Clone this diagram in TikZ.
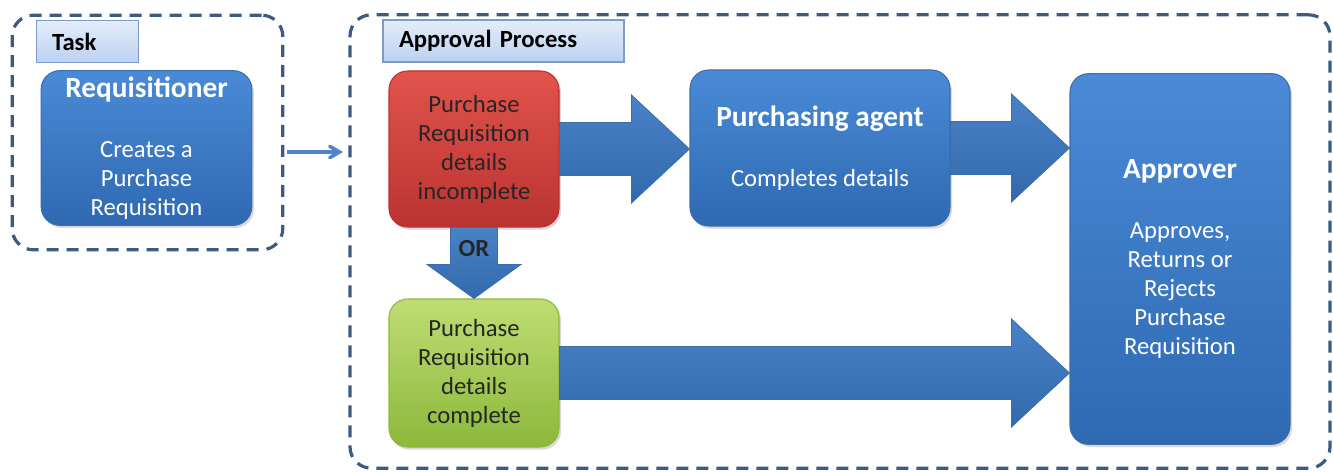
\documentclass[tikz,border=0pt]{standalone}
\usepackage{xcolor}
\usepackage{fontspec}
\setmainfont{Carlito}
\usepackage{tikz}
\usetikzlibrary{arrows,positioning,calc,shadows}
\definecolor{dashblue}{HTML}{3B5B82}
\definecolor{boxtop}{HTML}{4A8AD6}
\definecolor{boxbot}{HTML}{2F69B2}
\definecolor{boxline}{HTML}{3A6DAE}
\definecolor{redtop}{HTML}{E2534C}
\definecolor{redbot}{HTML}{BA3330}
\definecolor{greentop}{HTML}{BFDD74}
\definecolor{greenbot}{HTML}{8CB83B}
\definecolor{tagtop}{HTML}{E4EDF9}
\definecolor{tagbot}{HTML}{BBD1F0}
\definecolor{tagline}{HTML}{7E9CC6}
\definecolor{arrowblue}{HTML}{3A77C3}
\newcommand*{\boxtxt}{\fontsize{18.5}{21.75}\selectfont}
\newcommand*{\boxttl}{\bfseries\fontsize{22}{25}\selectfont}
% 横向粗箭头: 起点, 终点节点, 箭尖名
\newcommand*{\harrow}[3]{%
  \coordinate (#3) at (#1 -| #2);
  \path[bigarrow] ($(#1)+(0,-26.5)$) -- ($(#3)+(-58,-26.5)$) -- ($(#3)+(-58,-54)$) -- (#3)
    -- ($(#3)+(-58,54)$) -- ($(#3)+(-58,26.5)$) -- ($(#1)+(0,26.5)$) -- cycle;}

\begin{document}
\begin{tikzpicture}[ %可选参数
        x=0.75pt, y=-0.75pt, % 按像素取坐标, y 向下
        >=angle 60, % 开口箭头
        font=\boxtxt % 默认字号
      ]
      \tikzstyle{group}=[draw=dashblue, line width=2.4pt, dash pattern=on 9pt off 6pt, rounded corners=16pt] % 虚线分组框
      \tikzstyle{tag}=[draw=tagline, line width=0.8pt, top color=tagtop, bottom color=tagbot, font=\bfseries\fontsize{18.5}{20}\selectfont, align=left, inner xsep=12pt, inner ysep=1pt] % 标题条
      \tikzstyle{box}=[rounded corners=14pt, draw=boxline, line width=0.8pt, top color=boxtop, bottom color=boxbot, text=white, align=center, inner sep=1pt,
        drop shadow={opacity=0.3, shadow xshift=1.5pt, shadow yshift=-2pt}] % 蓝色圆角框
      \tikzstyle{redbox}=[box, draw=redbot, top color=redtop, bottom color=redbot, text=black!85]
      \tikzstyle{greenbox}=[box, draw=greenbot, top color=greentop, bottom color=greenbot, text=black!85]
      \tikzstyle{bigarrow}=[draw=boxline, line width=0.6pt, top color=arrowblue!92!white, bottom color=arrowblue!88!black] % 粗箭头
      \tikzstyle{flow}=[->, draw=arrowblue!90!white, line width=2.6pt, shorten <=2pt, shorten >=4pt]
      \useasboundingbox (0,0) rectangle (1333,473);
      %% node
      \node[group, minimum width=203pt, minimum height=176pt] (task) at (147.5,132.5) {};
      \node[group, minimum width=735pt, minimum height=340pt] (proc) at (840,241.5) {};
      \node[tag, minimum height=32pt, text width=53pt] (tasktag) at (87.5,41.5) {Task};
      \node[tag, minimum height=31.5pt, text width=156.75pt] (proctag) at (503.5,41) {Approval Process};
      \node[box, minimum width=158pt, minimum height=116pt] (req) at (146.5,148)
        {{\boxttl Requisitioner}\\[23pt]Creates a\\Purchase\\Requisition};
      \node[redbox, minimum width=127.5pt, minimum height=117pt] (incomplete) at (474,149)
        {Purchase\\Requisition\\details\\incomplete};
      \node[greenbox, minimum width=127.5pt, minimum height=111pt] (complete) at (474,373)
        {Purchase\\Requisition\\details\\complete};
      \node[box, minimum width=195pt, minimum height=117pt] (agent) at (820,148)
        {{\boxttl Purchasing agent}\\[23pt]Completes details};
      \node[box, minimum width=165pt, minimum height=278pt] (approver) at (1180,259)
        {{\boxttl Approver}\\[23pt]Approves,\\Returns or\\Rejects\\Purchase\\Requisition};
      %% path
      \draw[flow] ($(task.east |- req.east)+(0,4)$) -- ($(proc.west |- req.east)+(0,4)$);
      \harrow{incomplete.east}{agent.west}{t1}
      \harrow{agent.east}{approver.west}{t2}
      \harrow{complete.east}{approver.west}{t3}
      \coordinate (dn) at (incomplete.south |- complete.north);
      \path[bigarrow] ($(incomplete.south)+(-23.5,0)$) -- ($(dn)+(-23.5,-34)$) -- ($(dn)+(-47,-34)$) -- (dn)
        -- ($(dn)+(47,-34)$) -- ($(dn)+(23.5,-34)$) -- ($(incomplete.south)+(23.5,0)$) -- cycle;
      \node[font=\bfseries\boxtxt, text=black!85] (ortext) at ($(incomplete.south)!0.3!(dn)$) {OR};
\end{tikzpicture}
\end{document}
